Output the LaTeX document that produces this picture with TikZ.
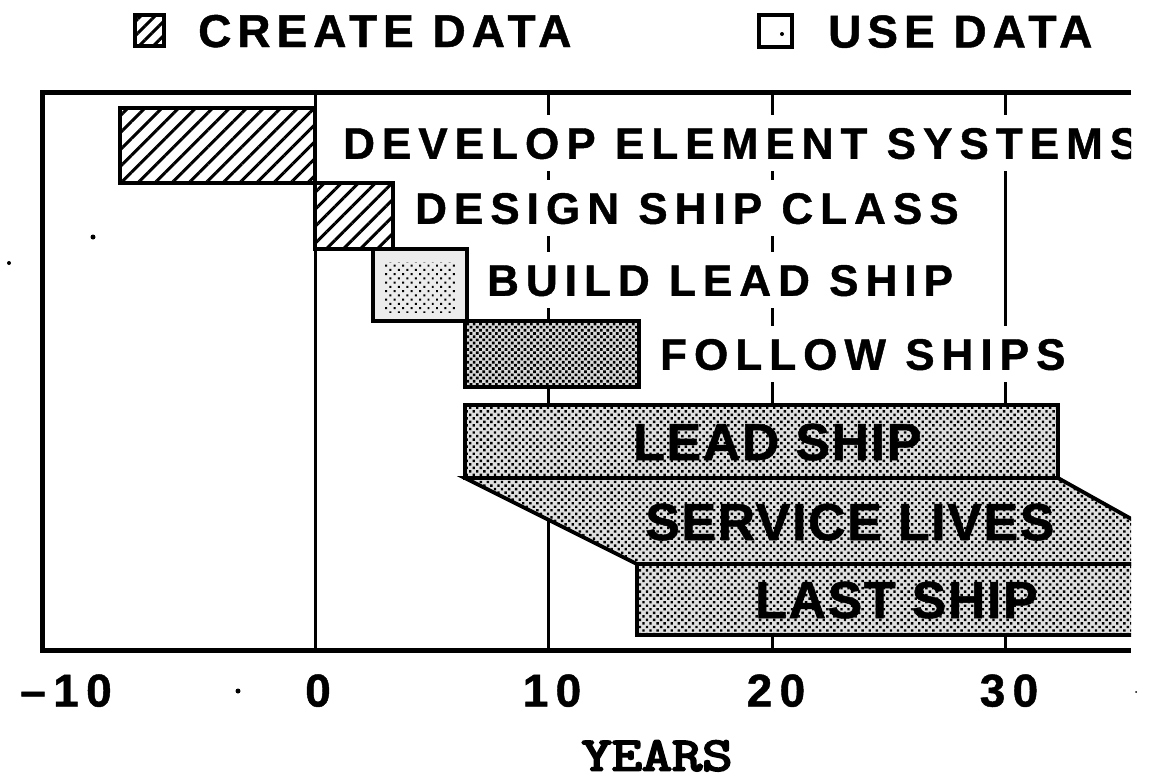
\documentclass[tikz,border=0pt]{standalone}
\usepackage{fontspec}
\usepackage{graphicx}
\setmainfont{Liberation Sans}
\newfontfamily\trackfont{Liberation Sans}[LetterSpace=16, FakeBold=1]
\newfontfamily\legfont{Liberation Sans}[LetterSpace=13, FakeBold=1]
\newfontfamily\lowfont{Liberation Sans}[LetterSpace=3, FakeBold=1]
\newfontfamily\yrfont{Latin Modern Mono}[FakeBold=4]
\usetikzlibrary{patterns.meta}
\tikzset{
  frameline/.style={line width=5pt},
  gridline/.style={line width=3pt},
  barbox/.style={draw, line width=3.8pt, line join=miter},
  hatchfill/.style={pattern={Lines[angle=45,distance=12pt,line width=3pt]}},
  hatchsmall/.style={pattern={Lines[angle=45,distance=10pt,line width=3pt]}},
  densedots/.style={pattern={Dots[radius=1.9pt,distance=4.5pt,angle=45]}},
  middots/.style={pattern={Dots[radius=1.7pt,distance=5pt,angle=45]}},
  sparsedots/.style={pattern={Dots[radius=1.4pt,distance=6pt,angle=45]}},
  rowlabel/.style={anchor=west, fill=white, inner xsep=3pt, inner ysep=12pt,
    text height=31.5pt, text depth=0pt, font=\trackfont\bfseries\fontsize{44}{50}\selectfont},
  lowlabel/.style={anchor=west, inner sep=0pt, text height=38pt, text depth=0pt,
    font=\lowfont\bfseries\fontsize{52}{60}\selectfont},
  legtext/.style={anchor=west, inner sep=0pt, text height=33pt, text depth=0pt,
    font=\legfont\bfseries\fontsize{46}{50}\selectfont},
  axnum/.style={inner sep=0pt, text height=33pt, text depth=0pt,
    font=\trackfont\bfseries\fontsize{46}{50}\selectfont},
  yearlabel/.style={inner sep=0pt, text height=29pt, text depth=0pt,
    font=\yrfont\fontsize{48}{50}\selectfont},
  legbox/.style={draw, line width=3.5pt},
  speck/.style={fill=black}
}
\begin{document}
\begin{tikzpicture}[x=1pt,y=-1pt]
\useasboundingbox (0,0) rectangle (1149,779);
% legend
\path[hatchsmall] (135,15) rectangle (164,46);
\draw[legbox] (135,15) rectangle (164,46);
\node[legtext] (lgc) at (198,30.5) {CREATE DATA};
\draw[legbox] (759,15) rectangle (792,47);
\fill (782,34) circle (2pt);
\node[legtext] (lgu) at (828,31) {USE DATA};
\begin{scope}
\clip (0,80) rectangle (1131,662);
% grid lines
\draw[gridline] (315,92) -- (315,650);
\foreach \gx in {548,772,1005} \draw[gridline] (\gx,92) -- (\gx,650);
% row labels (white backing hides grid lines)
\node[rowlabel] (l1) at (340,143) {DEVELOP ELEMENT SYSTEMS};
\node[rowlabel] (l2) at (412,208) {DESIGN SHIP CLASS};
\node[rowlabel] (l3) at (484,280) {BUILD LEAD SHIP};
\node[rowlabel] (l4) at (657,354) {FOLLOW SHIPS};
% create-data bars
\path[hatchfill] (120,108) rectangle (315,183);
\draw[barbox] (120,108) rectangle (315,183);
\path[hatchfill] (315,183) rectangle (393,249);
\draw[barbox] (315,183) rectangle (393,249);
% use-data bars
\fill[white] (373,249) rectangle (467,321);
\path[fill=gray!15] (373,249) rectangle (467,321);
\path[sparsedots] (385,262) rectangle (455,312);
\draw[barbox] (373,249) rectangle (467,321);
\path[fill=gray!30] (465,321) rectangle (639,387);
\path[densedots] (465,321) rectangle (639,387);
\draw[barbox] (465,321) rectangle (639,387);
% lead ship
\path[fill=gray!25] (465,405) rectangle (1058,478);
\path[middots] (465,405) rectangle (1058,478);
\draw[barbox] (465,405) rectangle (1058,478);
% service lives
\path[fill=gray!25] (465,478) -- (1058,478) -- (1212,564) -- (637,564) -- cycle;
\path[middots] (465,478) -- (1058,478) -- (1212,564) -- (637,564) -- cycle;
\draw[barbox] (1212,564) -- (1058,478) -- (465,478) -- (637,564) -- (1212,564);
% last ship
\path[fill=gray!25] (637,564) rectangle (1212,635);
\path[middots] (637,564) rectangle (1212,635);
\draw[barbox] (1212,564) -- (637,564) -- (637,635) -- (1212,635);
% bar labels
\node[lowlabel] (l5) at (633,441) {LEAD SHIP};
\node[lowlabel] (l6) at (645,521) {SERVICE LIVES};
\node[lowlabel] (l7) at (755,599) {LAST SHIP};
% frame
\draw[frameline] (1131,92) -- (42,92) -- (42,650) -- (1131,650);
\end{scope}
% axis numbers
\node[axnum, anchor=east] (n1) at (112,690) {–10};
\node[axnum] (n2) at (318,690) {0};
\node[axnum] (n3) at (552,690) {10};
\node[axnum] (n4) at (776,690) {20};
\node[axnum] (n5) at (1009,690) {30};
\node[yearlabel] (yr) at (657,756) {\scalebox{1.22}[1]{YEARS}};
% specks
\fill[speck] (93,237) circle (2.5pt);
\fill[speck] (9,263) circle (2pt);
\fill[speck] (238,691) circle (2.5pt);
\fill[speck] (1136,692) circle (1pt);
\end{tikzpicture}
\end{document}
